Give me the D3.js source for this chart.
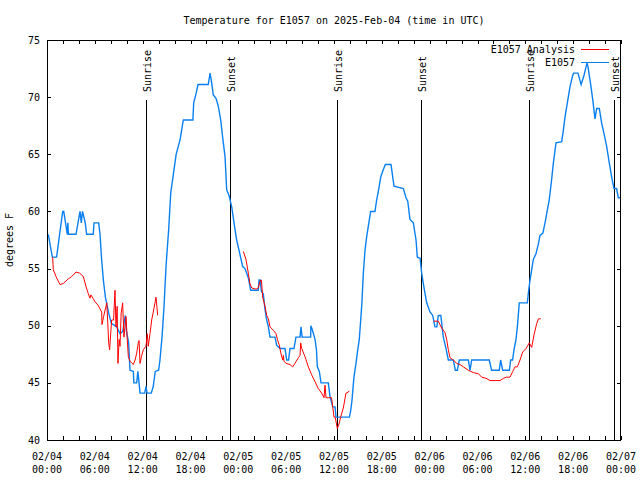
<!DOCTYPE html>
<html><head><meta charset="utf-8">
<script src="https://cdn.jsdelivr.net/npm/d3@7"></script>
<style>
body{margin:0;background:#fff;}
text{font-family:"DejaVu Sans Mono",monospace;font-size:10px;fill:#000;}
</style></head>
<body><svg id="chart" width="640" height="480"></svg>
<script>
const titleText = "Temperature for E1057 on 2025-Feb-04 (time in UTC)";
const yLabel = "degrees F";
const seriesNames = ["E1057 Analysis", "E1057"];
const seriesColors = ["#ff0000", "#0a80f0"];
const yTicks = [40, 45, 50, 55, 60, 65, 70, 75];
const sunHours = [12.42, 22.95, 36.38, 46.91, 60.46, 71.12];
const sunLabels = ["Sunrise", "Sunset", "Sunrise", "Sunset", "Sunrise", "Sunset"];

const obsHours = [0.16,0.67,1.2,1.97,2.1,2.55,2.62,2.68,3.64,4.14,4.3,4.45,4.8,4.97,5.8,5.9,6.48,6.65,6.85,7.07,7.32,7.74,8.07,8.74,9.16,9.5,9.82,9.95,10.24,10.41,10.83,10.9,11.25,11.4,11.5,11.67,12.25,12.42,12.55,13.08,13.33,13.58,14.0,14.17,14.43,14.68,14.93,15.26,15.52,15.76,16.2,16.7,17.1,18.3,18.4,18.7,18.94,20.23,20.45,20.58,20.86,21.2,21.49,21.79,22.03,22.33,22.54,22.83,23.17,23.46,23.79,24.12,24.54,24.84,25.25,25.55,26.5,26.6,26.72,26.9,27.13,27.35,27.56,27.77,27.97,28.6,28.8,29.23,29.85,30.07,30.3,30.48,30.98,31.23,31.74,31.86,32.0,33.07,33.1,33.3,33.62,33.8,33.91,34.16,34.37,35.29,35.5,35.84,36.13,36.25,37.93,38.1,38.26,38.5,38.76,38.92,39.17,39.35,39.5,39.68,39.89,40.1,40.3,40.6,41.14,41.35,41.6,41.86,42.1,42.44,43.15,43.53,44.7,45.03,45.25,45.53,45.95,46.29,46.45,46.8,47.0,47.2,47.42,47.63,48.04,48.38,48.67,48.9,49.08,49.4,49.71,50.05,50.34,50.97,51.22,51.47,51.72,52.85,53.06,53.27,55.48,55.77,56.73,56.9,57.16,58.0,58.16,58.4,58.58,58.83,59.0,59.24,60.25,60.42,60.59,60.8,61.0,61.34,61.65,61.84,62.2,62.47,62.68,63.0,63.3,63.51,63.85,64.56,64.77,64.98,65.27,65.6,65.94,66.05,66.6,67.0,67.32,67.74,67.85,68.2,68.45,68.74,68.95,69.28,69.58,69.87,70.2,70.54,70.83,71.12,71.45,71.66,71.96];
const obsTemps = [58.0,56.0,56.0,60.0,60.0,58.0,59.0,58.0,58.0,60.0,59.0,60.0,59.0,58.0,58.0,59.0,59.0,58.0,55.8,54.0,52.5,51.1,50.2,49.9,49.3,49.5,50.9,49.6,48.5,46.1,46.0,45.0,45.0,46.0,45.3,44.1,44.1,44.7,44.1,44.1,44.7,46.0,46.1,47.0,49.0,51.7,55.2,58.4,61.6,62.8,65.0,66.3,68.0,68.0,69.5,70.3,71.1,71.1,72.1,71.6,70.2,69.9,69.2,68.0,66.5,64.8,61.9,61.4,60.4,59.0,57.5,56.5,55.2,55.0,54.2,53.1,53.1,54.0,54.0,53.0,52.8,51.4,50.5,49.9,49.0,49.0,48.3,48.0,48.0,47.0,47.0,48.0,48.0,49.0,49.0,49.9,49.0,49.0,50.0,49.6,48.8,47.9,46.4,46.0,45.0,45.0,43.8,42.9,42.9,42.0,42.0,42.6,43.5,45.5,46.7,47.6,48.8,50.5,52.0,54.6,56.6,57.8,58.7,60.0,60.0,61.0,61.9,63.0,63.5,64.1,64.1,62.2,62.0,61.2,60.9,59.3,59.0,57.5,56.0,55.9,54.6,53.7,52.8,52.0,51.2,50.9,49.9,49.9,50.9,50.9,49.0,48.0,47.0,47.0,46.1,46.1,47.0,47.0,46.1,47.0,47.0,46.1,46.1,47.0,46.1,46.1,47.0,47.0,47.9,48.8,49.9,52.0,52.0,53.1,54.0,54.9,55.8,56.3,57.2,57.9,58.1,59.0,59.8,61.0,62.8,64.2,66.0,66.1,67.1,68.3,69.5,70.9,71.9,72.1,72.1,71.1,71.8,73.0,72.7,71.1,69.8,68.1,69.0,69.0,67.7,66.8,65.7,64.2,63.0,62.0,62.0,61.2,61.2];

const anaHours = [0.71,0.79,1.13,1.63,2.05,2.67,3.1,3.64,4.1,4.56,4.9,5.18,5.39,5.5,5.6,6.02,6.4,6.86,6.9,7.1,7.4,7.5,7.74,7.85,8.11,8.35,8.53,8.65,8.8,8.9,9.05,9.16,9.3,9.49,9.65,9.91,10.05,10.2,10.41,10.83,11.05,11.25,11.45,11.55,11.67,11.85,12.08,12.42,12.58,12.7,12.92,13.13,13.3,13.55,13.67,13.78,13.88,
 19.0,
 24.63,24.96,25.25,25.45,25.68,26.22,26.5,26.72,26.9,27.05,27.35,27.56,27.77,27.97,28.39,28.73,28.9,29.14,29.3,29.56,29.65,29.73,29.98,30.48,30.82,31.1,31.53,31.74,31.82,31.95,32.36,32.78,33.2,33.62,34.03,34.45,34.75,34.87,35.0,35.29,35.7,35.84,36.0,36.15,36.42,36.67,36.83,37.17,37.5,37.8,37.92,
 43.0,
 48.5,48.67,49.08,49.5,49.92,50.13,50.34,50.55,50.97,51.39,51.81,52.23,52.85,53.47,54.1,54.52,55.07,55.57,56.2,56.83,57.24,57.66,58.08,58.42,58.71,59.0,59.33,59.67,60.08,60.5,60.8,61.09,61.43,61.64,61.93];
const anaTemps = [56.0,54.9,54.3,53.6,53.7,54.1,54.3,54.7,54.6,54.3,53.4,52.8,52.4,52.7,52.6,52.1,51.8,51.2,50.1,50.8,51.7,52.0,48.5,47.9,50.5,50.5,53.1,49.9,51.7,46.7,48.8,48.2,51.1,52.0,49.0,50.8,49.0,47.3,46.9,46.6,47.0,47.6,48.5,48.7,46.7,47.3,47.9,48.2,49.3,48.2,49.3,50.5,51.1,52.0,52.5,51.7,50.9,
 null,
 56.5,55.8,54.6,53.7,53.3,53.2,53.3,53.9,54.0,52.5,51.7,50.9,50.6,49.9,49.6,49.3,48.8,48.3,47.7,47.0,47.4,46.9,46.7,46.6,46.4,46.7,47.2,47.4,48.5,48.0,47.3,46.4,45.7,45.1,44.5,44.1,43.7,44.8,43.7,43.7,43.7,42.9,42.0,42.0,41.0,41.5,42.0,42.8,44.1,44.2,44.3,
 null,
 50.4,50.4,50.4,49.8,49.4,48.8,47.9,47.2,47.0,46.7,46.6,46.4,46.1,45.9,45.8,45.5,45.4,45.2,45.2,45.2,45.4,45.5,45.5,46.0,46.4,46.4,47.0,47.7,48.0,48.5,48.1,49.2,50.2,50.6,50.6];

const t0 = Date.UTC(2025, 1, 4);
const t1 = Date.UTC(2025, 1, 7);
const toDate = h => new Date(t0 + h * 3600e3);

const svg = d3.select("#chart");
const L = 47, R = 621, T = 40, B = 440;
const x = d3.scaleUtc().domain([new Date(t0), new Date(t1)]).range([L, R]);
const y = d3.scaleLinear().domain([40, 75]).range([B, T]);

svg.append("rect").attr("width", 640).attr("height", 480).attr("fill", "#fff");

// title
svg.append("text").attr("x", (L + R) / 2).attr("y", 24).attr("text-anchor", "middle").text(titleText);

// axes ticks
const minorTicks = d3.utcHour.every(2).range(new Date(t0), new Date(t1 + 1));
const axB = d3.axisBottom(x).tickValues(minorTicks).tickSize(-4).tickFormat("");
const axT = d3.axisTop(x).tickValues(minorTicks).tickSize(-4).tickFormat("");
const axL = d3.axisLeft(y).tickValues(yTicks).tickSize(-4).tickFormat("");
const axR = d3.axisRight(y).tickValues(yTicks).tickSize(-4).tickFormat("");
[[axB, `translate(0,${B})`], [axT, `translate(0,${T})`], [axL, `translate(${L},0)`], [axR, `translate(${R},0)`]].forEach(([ax, tr]) => {
  const g = svg.append("g").attr("transform", tr).call(ax).attr("shape-rendering", "crispEdges");
  g.select(".domain").remove();
  g.selectAll("line").attr("stroke", "#000");
});

// x labels every 6h
const majorTicks = d3.utcHour.every(6).range(new Date(t0), new Date(t1 + 1));
const fDate = d3.utcFormat("%m/%d"), fTime = d3.utcFormat("%H:%M");
majorTicks.forEach(d => {
  const t = svg.append("text").attr("x", x(d)).attr("text-anchor", "middle");
  t.append("tspan").attr("x", x(d)).attr("y", 460).text(fDate(d));
  t.append("tspan").attr("x", x(d)).attr("y", 473).text(fTime(d));
});
// y labels
yTicks.forEach(v => {
  svg.append("text").attr("x", 40).attr("y", y(v)).attr("dy", "0.35em").attr("text-anchor", "end").text(v);
});
svg.append("text").attr("transform", `translate(13,${(T + B) / 2}) rotate(-90)`).attr("text-anchor", "middle").text(yLabel);

// sun lines
sunHours.forEach((h, i) => {
  const xx = Math.round(x(toDate(h))) + 0.5;
  svg.append("line").attr("x1", xx).attr("x2", xx).attr("y1", 100).attr("y2", B)
    .attr("stroke", "#000").attr("stroke-width", 1).attr("shape-rendering", "crispEdges");
  svg.append("text").attr("transform", `translate(${xx + 4.5},92) rotate(-90)`).attr("text-anchor", "start").text(sunLabels[i]);
});

// data
const obs = obsHours.map((h, i) => ({ d: toDate(h), v: obsTemps[i] }));
const ana = anaHours.map((h, i) => ({ d: toDate(h), v: anaTemps[i] }));
const line = d3.line().defined(p => p.v != null).x(p => x(p.d)).y(p => y(p.v));

svg.append("path").datum(obs).attr("d", line).attr("fill", "none")
  .attr("stroke", seriesColors[1]).attr("stroke-width", 1.4);
svg.append("path").datum(ana).attr("d", line).attr("fill", "none")
  .attr("stroke", seriesColors[0]).attr("stroke-width", 1);

// border
svg.append("rect").attr("x", L + 0.5).attr("y", T + 0.5).attr("width", R - L - 1).attr("height", B - T)
  .attr("fill", "none").attr("stroke", "#000").attr("shape-rendering", "crispEdges");

// legend
seriesNames.forEach((n, i) => {
  const ly = 49 + i * 13;
  svg.append("text").attr("x", 575).attr("y", ly).attr("dy", "0.35em").attr("text-anchor", "end").text(n);
  svg.append("line").attr("x1", 581).attr("x2", 609).attr("y1", ly + 0.5).attr("y2", ly + 0.5)
    .attr("stroke", seriesColors[i]).attr("stroke-width", i === 1 ? 1.4 : 1).attr("shape-rendering", "crispEdges");
});
</script></body></html>
